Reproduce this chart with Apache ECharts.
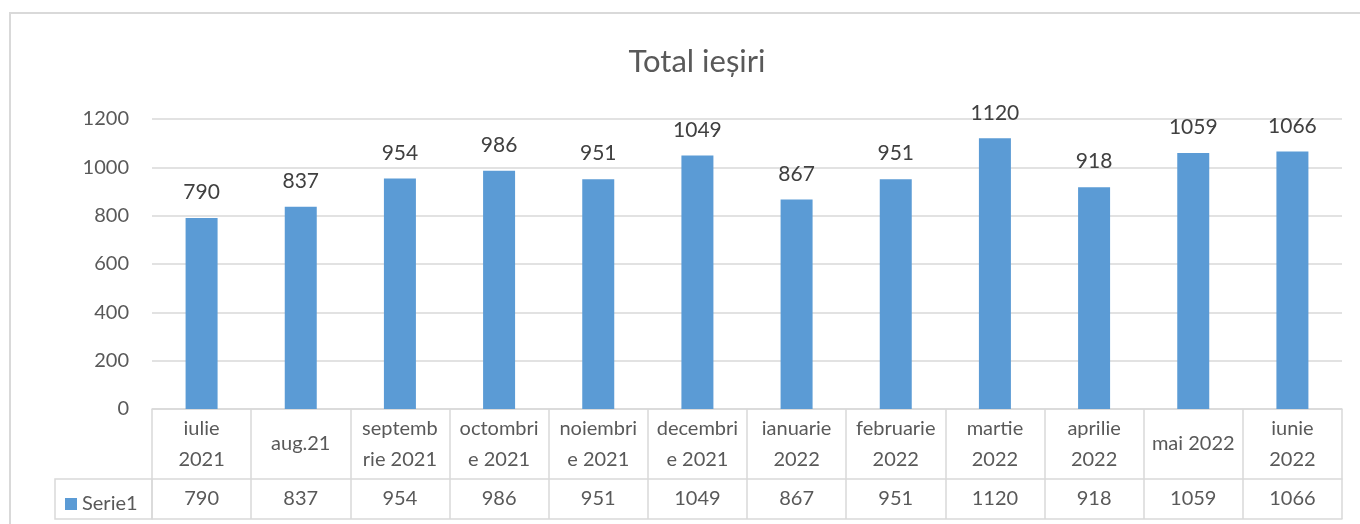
<!DOCTYPE html>
<html>
<head>
<meta charset="utf-8">
<script src="https://cdn.jsdelivr.net/npm/echarts@6/dist/echarts.min.js"></script>
<style>
  html, body { margin: 0; padding: 0; background: #fff; }
  #chart_iesiri { width: 1360px; height: 524px; }
</style>
</head>
<body>
<div id="chart_iesiri"></div>
<script>
const categories = [
  "iulie\n2021", "aug.21", "septemb\nrie 2021", "octombri\ne 2021",
  "noiembri\ne 2021", "decembri\ne 2021", "ianuarie\n2022", "februarie\n2022",
  "martie\n2022", "aprilie\n2022", "mai 2022", "iunie\n2022"
];
const serie1 = [790, 837, 954, 986, 951, 1049, 867, 951, 1120, 918, 1059, 1066];
const yTicks = [0, 200, 400, 600, 800, 1000, 1200];

const fontName = "Lato";
const gridColor = "#d9d9d9";
const textColor = "#595959";

const chart = echarts.init(document.getElementById("chart_iesiri"));
const option = {
  backgroundColor: "#fff",
  animation: false,
  title: {
    text: "Total ieșiri",
    left: 692,
    textAlign: "center",
    top: 41,
    textStyle: { color: textColor, fontFamily: fontName, fontSize: 31, fontWeight: "normal" }
  },
  legend: {
    left: 60,
    top: 489,
    icon: "rect",
    itemWidth: 12,
    itemHeight: 12,
    itemGap: 6,
    textStyle: { color: textColor, fontFamily: fontName, fontSize: 20 },
    data: ["Serie1"]
  },
  graphic: [
    {
      type: "rect",
      shape: { x: 10, y: 13, width: 1400, height: 600 },
      style: { fill: "none", stroke: gridColor, lineWidth: 2 },
      silent: true
    },
    {
      type: "rect",
      shape: { x: 55, y: 479, width: 97, height: 40 },
      style: { fill: "none", stroke: gridColor, lineWidth: 1.5 },
      silent: true
    }
  ],
  grid: { left: 152, right: 18, top: 119, bottom: 115 },
  xAxis: [
    {
      type: "category",
      data: categories,
      axisLine: { show: true, lineStyle: { color: gridColor, width: 1.5 } },
      axisTick: { show: true, interval: 0, length: 110, lineStyle: { color: gridColor, width: 1.5 } },
      axisLabel: {
        interval: 0,
        margin: 35,
        verticalAlign: "middle",
        lineHeight: 31,
        color: textColor,
        fontFamily: fontName,
        fontSize: 20
      }
    },
    {
      type: "category",
      position: "bottom",
      offset: 70,
      data: serie1.map(String),
      axisLine: { show: true, lineStyle: { color: gridColor, width: 1.5 } },
      axisTick: { show: false },
      axisLabel: {
        interval: 0,
        margin: 20,
        verticalAlign: "middle",
        color: textColor,
        fontFamily: fontName,
        fontSize: 20
      }
    },
    {
      type: "category",
      position: "bottom",
      offset: 110,
      data: categories,
      axisLine: { show: true, lineStyle: { color: gridColor, width: 1.5 } },
      axisTick: { show: false },
      axisLabel: { show: false }
    }
  ],
  yAxis: {
    type: "value",
    min: yTicks[0],
    max: yTicks[yTicks.length - 1],
    interval: 200,
    axisLine: { show: false },
    axisTick: { show: false },
    splitLine: { lineStyle: { color: gridColor, width: 1.5 } },
    axisLabel: {
      margin: 23,
      color: textColor,
      fontFamily: fontName,
      fontSize: 20,
      formatter: (v) => String(v)
    }
  },
  series: [
    {
      name: "Serie1",
      type: "bar",
      xAxisIndex: 0,
      barWidth: 32,
      itemStyle: { color: "#5b9bd5" },
      label: {
        show: true,
        position: "top",
        distance: 15,
        color: "#404040",
        fontFamily: fontName,
        fontSize: 21
      },
      data: serie1
    }
  ]
};
chart.setOption(option);
</script>
</body>
</html>
